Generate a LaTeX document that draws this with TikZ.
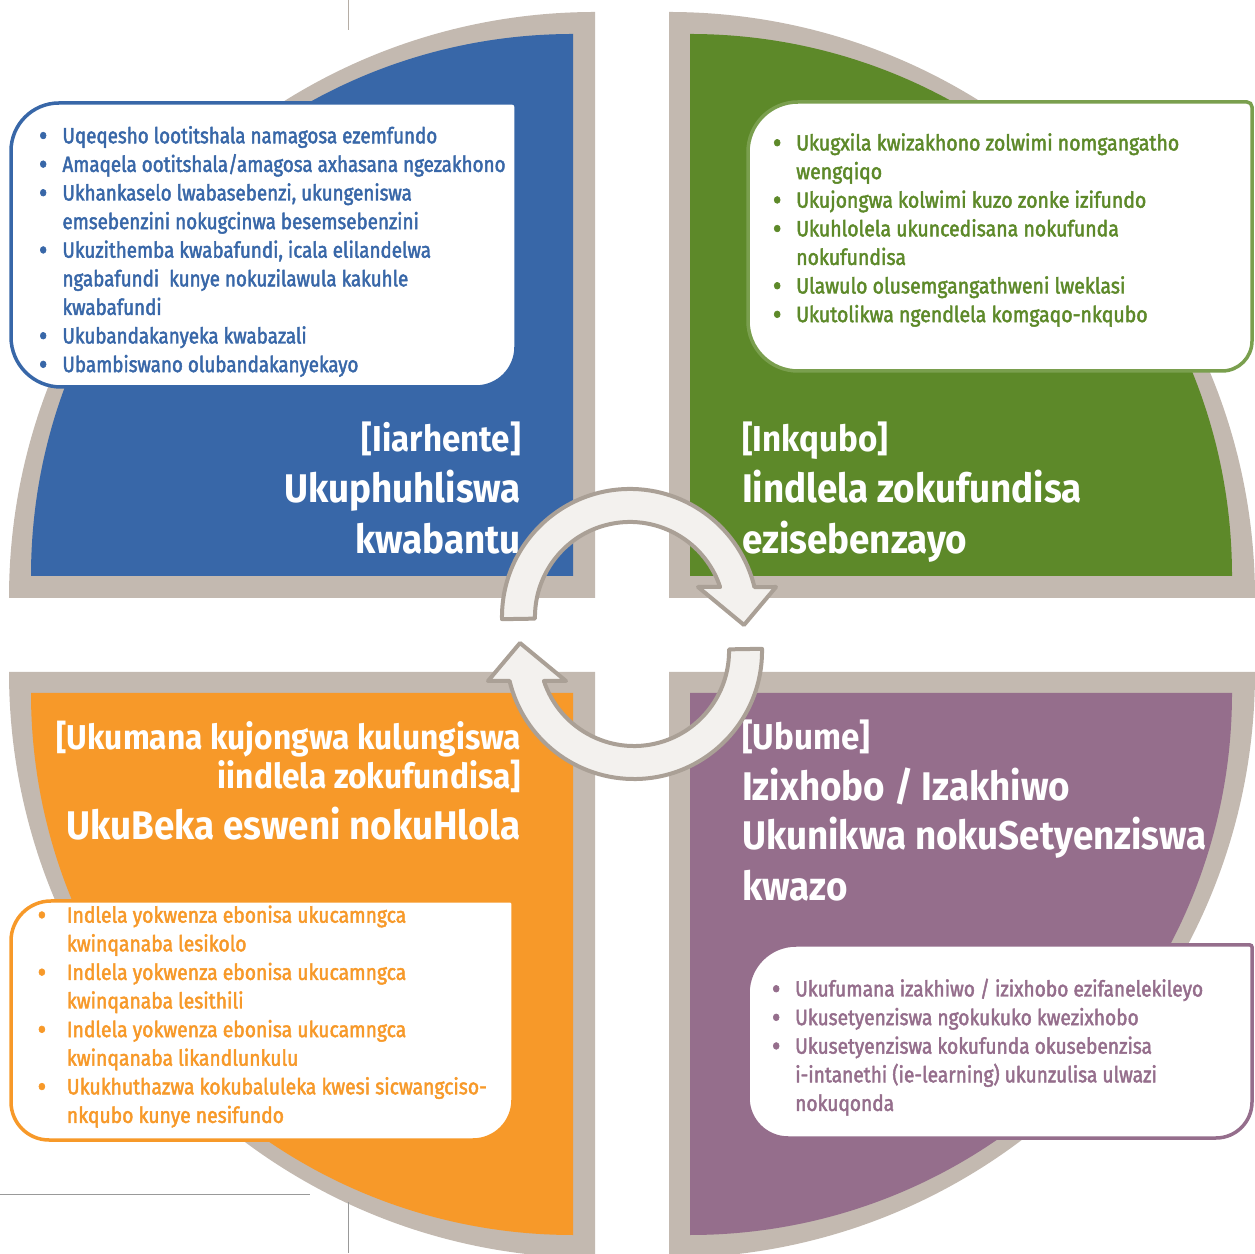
\documentclass[tikz,border=0pt]{standalone}
\usepackage{fontspec}
\newfontfamily\tfa{Fira Sans}[FakeStretch=0.855, FakeBold=2]
\newfontfamily\tfb{Fira Sans}[FakeStretch=0.885, FakeBold=2]
\newfontfamily\tfc{Fira Sans}[FakeStretch=0.878, FakeBold=2]
\newfontfamily\tfd{Fira Sans}[FakeStretch=0.87, FakeBold=2]
\newfontfamily\tft{Fira Sans}[FakeStretch=0.92]
\definecolor{cblue}{HTML}{3867A8}
\definecolor{cgreen}{HTML}{5D8929}
\definecolor{cgreenline}{HTML}{7A9F4E}
\definecolor{corange}{HTML}{F79929}
\definecolor{cpurple}{HTML}{956E8C}
\definecolor{cring}{HTML}{C3B9B0}
\definecolor{arrfill}{HTML}{F3F1EE}
\definecolor{arrline}{HTML}{AAA096}
\definecolor{cropc}{HTML}{B5ADA5}
\newlength\bgap
\newcommand\bl[1]{\hbox{\hbox to 0pt{\hss\hbox to 0pt{\hss\raisebox{-2.5pt}{\fontsize{30}{30}\selectfont\textbullet}\hss}\kern\bgap}#1}}
\newcommand\cl[1]{\hbox{#1}}
% box with individual corner radii: style, x1, x2, y1(bottom), y2(top), rTL, rTR, rBR, rBL
\newcommand\rbox[9]{\draw[#1] (#2+#6,#5) -- (#3-#7,#5) arc[start angle=90,end angle=0,radius=#7pt] -- (#3,#4+#8) arc[start angle=0,end angle=-90,radius=#8pt] -- (#2+#9,#4) arc[start angle=270,end angle=180,radius=#9pt] -- (#2,#5-#6) arc[start angle=180,end angle=90,radius=#6pt] -- cycle;}
\begin{document}
\begin{tikzpicture}[x=1pt,y=1pt,
  ttl/.style={font=\tft\bfseries\fontsize{36}{42}\selectfont, text=white, inner sep=0pt},
  ttls/.style={font=\tft\bfseries\fontsize{34.5}{40}\selectfont, text=white, inner sep=0pt},
  ttm/.style={font=\tft\bfseries\fontsize{40}{48}\selectfont, text=white, inner sep=0pt},
  lst/.style={inner sep=0pt, anchor=base west},
  boxsty/.style={fill=white, line width=3.5pt},
  arr/.style={fill=arrfill, draw=arrline, line width=4pt, line join=round},
  crop/.style={draw=cropc, line width=1pt}]
\useasboundingbox (0,0) rectangle (1255,1253);
\begin{scope}
\clip (0,0) rectangle (1255,1253);
% quadrants
\fill[cring] (595,655) -- (9,655) arc[start angle=180,end angle=90,radius=586pt] -- cycle;
\fill[cblue] (573,677) -- (31,677) arc[start angle=180,end angle=90,radius=542pt] -- cycle;
\fill[cring] (669,655) -- (669,1241) arc[start angle=90,end angle=0,radius=586pt] -- cycle;
\fill[cgreen] (690,677) -- (690,1219) arc[start angle=90,end angle=0,radius=542pt] -- cycle;
\fill[cring] (595,581) -- (9,581) arc[start angle=180,end angle=270,radius=586pt] -- cycle;
\fill[corange] (573,560) -- (31,560) arc[start angle=180,end angle=270,radius=542pt] -- cycle;
\fill[cring] (669,581) -- (1255,581) arc[start angle=0,end angle=-90,radius=586pt] -- cycle;
\fill[cpurple] (690,560) -- (1232,560) arc[start angle=0,end angle=-90,radius=542pt] -- cycle;
% text boxes
\rbox{boxsty, draw=cblue}{11}{516}{866}{1150}{48}{3}{40}{50}
\rbox{boxsty, draw=cgreenline}{748}{1252}{882}{1151}{50}{5}{30}{50}
\rbox{boxsty, draw=corange}{11}{513}{113}{352}{40}{2}{40}{38}
\rbox{boxsty, draw=cpurple}{748}{1252}{115}{308}{48}{2}{36}{40}
% crop marks
\draw[crop] (348,1253) -- (348,1223);
\draw[crop, draw=gray!80] (0,59) -- (310,59);
\draw[crop, draw=gray!80] (348,51) -- (348,0);
\end{scope}
% titles
\node[ttl, anchor=base east] (tl1) at (521,801) {[Iiarhente]};
\node[ttm, anchor=base east] (tl2) at (521,750) {Ukuphuhliswa};
\node[ttm, anchor=base east] (tl3) at (521,699) {kwabantu};
\node[ttl, anchor=base west] (tr1) at (742,801) {[Inkqubo]};
\node[ttm, anchor=base west] (tr2) at (742,750) {Iindlela zokufundisa};
\node[ttm, anchor=base west] (tr3) at (742,699) {ezisebenzayo};
\node[ttls, anchor=base east] (bl1) at (521,503.5) {[Ukumana kujongwa kulungiswa};
\node[ttls, anchor=base east] (bl2) at (521,464) {iindlela zokufundisa]};
\node[ttm, anchor=base east] (bl3) at (521,413) {UkuBeka esweni nokuHlola};
\node[ttl, anchor=base west] (br1) at (742,503.5) {[Ubume]};
\node[ttm, anchor=base west] (br2) at (742,452) {Izixhobo / Izakhiwo};
\node[ttm, anchor=base west] (br3) at (742,403) {Ukunikwa nokuSetyenziswa};
\node[ttm, anchor=base west] (br4) at (742,352) {kwazo};
% lists
\node[lst, text=cblue, font=\tfa\fontsize{22}{28.6}\selectfont] (tll) at (62.3,1109.7) {\setlength\bgap{19.3pt}\vtop{%
\bl{Uqeqesho lootitshala namagosa ezemfundo}
\bl{Amaqela ootitshala/amagosa axhasana ngezakhono}
\bl{Ukhankaselo lwabasebenzi, ukungeniswa}
\cl{emsebenzini nokugcinwa besemsebenzini}
\bl{Ukuzithemba kwabafundi, icala elilandelwa}
\cl{ngabafundi\ \ kunye nokuzilawula kakuhle}
\cl{kwabafundi}
\bl{Ukubandakanyeka kwabazali}
\bl{Ubambiswano olubandakanyekayo}}};
\node[lst, text=cgreen, font=\tfb\fontsize{22}{28.6}\selectfont] (trl) at (796,1102.5) {\setlength\bgap{19pt}\vtop{%
\bl{Ukugxila kwizakhono zolwimi nomgangatho}
\cl{wengqiqo}
\bl{Ukujongwa kolwimi kuzo zonke izifundo}
\bl{Ukuhlolela ukuncedisana nokufunda}
\cl{nokufundisa}
\bl{Ulawulo olusemgangathweni lweklasi}
\bl{Ukutolikwa ngendlela komgaqo-nkqubo}}};
\node[lst, text=corange, font=\tfc\fontsize{22}{28.6}\selectfont] (bll) at (66.7,330.3) {\setlength\bgap{25pt}\vtop{%
\bl{Indlela yokwenza ebonisa ukucamngca}
\cl{kwinqanaba lesikolo}
\bl{Indlela yokwenza ebonisa ukucamngca}
\cl{kwinqanaba lesithili}
\bl{Indlela yokwenza ebonisa ukucamngca}
\cl{kwinqanaba likandlunkulu}
\bl{Ukukhuthazwa kokubaluleka kwesi sicwangciso-}
\cl{nkqubo kunye nesifundo}}};
\node[lst, text=cpurple, font=\tfd\fontsize{22}{28.6}\selectfont] (brl) at (795,256.5) {\setlength\bgap{19pt}\vtop{%
\bl{Ukufumana izakhiwo / izixhobo ezifanelekileyo}
\bl{Ukusetyenziswa ngokukuko kwezixhobo}
\bl{Ukusetyenziswa kokufunda okusebenzisa}
\cl{i-intanethi (ie-learning) ukunzulisa ulwazi}
\cl{nokuqonda}}};
% cycle arrows
\draw[arr] (502,633.8) arc[start angle=181,end angle=13.5,radius=128pt] -- (776,666) -- (744,628) -- (698,666) -- (720.1,666) arc[start angle=18.4,end angle=181,radius=95pt] -- cycle;
\draw[arr] (762,604.2) arc[start angle=1,end angle=-166.5,radius=128pt] -- (488,572) -- (520,610) -- (566,572) -- (543.9,572) arc[start angle=-161.6,end angle=1,radius=95pt] -- cycle;
\end{tikzpicture}
\end{document}
